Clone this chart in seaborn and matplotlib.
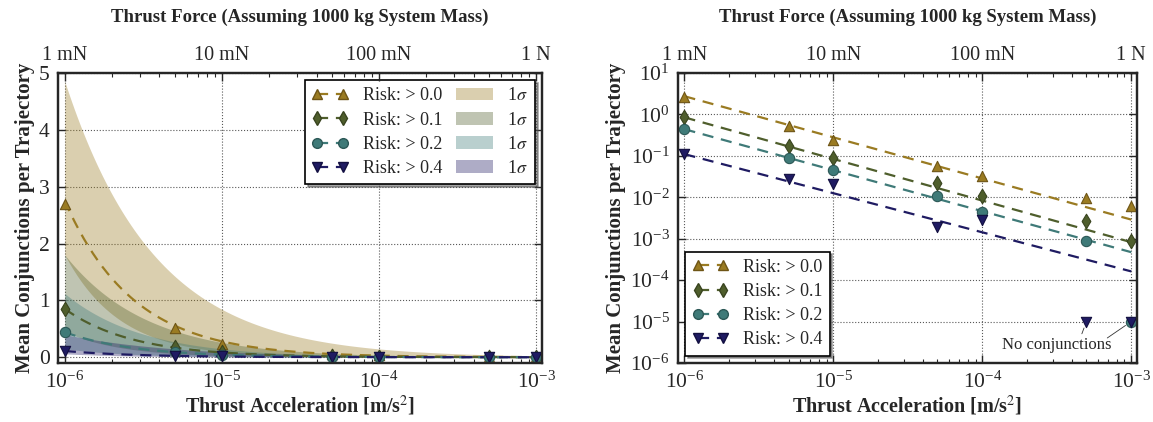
import numpy as np
import pandas as pd
import matplotlib
matplotlib.use("Agg")
import matplotlib.pyplot as plt
import seaborn as sns
from matplotlib.lines import Line2D
from matplotlib.patches import Patch

# thrust accelerations [m/s^2] and mean conjunctions per trajectory
accel = [1e-6, 5e-6, 1e-5, 5e-5, 1e-4, 5e-4, 1e-3]
risk_labels = ["Risk: > 0.0", "Risk: > 0.1", "Risk: > 0.2", "Risk: > 0.4"]
risk00 = [2.7, 0.52, 0.24, 0.056, 0.032, 0.0095, 0.006]
risk01 = [0.85, 0.175, 0.088, 0.022, 0.0105, 0.0027, 0.0009]
risk02 = [0.44, 0.089, 0.045, 0.0105, 0.0044, 0.0009, 0.0]
risk04 = [0.112, 0.027, 0.021, 0.0019, 0.0028, 0.0, 0.0]
no_conj_level = 1e-5  # where zero counts are shown on the log plot

# power-law fits (value at 1e-6, exponent) and 1-sigma band edges
fit_at_1e6 = [2.75, 0.85, 0.44, 0.11]
fit_slope = [-0.993, -1.005, -0.99, -0.944]
band_hi_at_1e6 = [4.85, 1.8, 1.12, 0.40]
band_hi_slope = [-0.76, -0.84, -0.88, -0.62]
band_lo_at_1e6 = [1.8, 0.45, 0.15, 0.06]
band_lo_slope = [-1.25, -1.2, -1.1, -1.0]

force_ticks = [1e-6, 1e-5, 1e-4, 1e-3]
force_labels = ["1 mN", "10 mN", "100 mN", "1 N"]

colors = ["#9a7b22", "#4f5e2c", "#3f7a78", "#1f1b62"]
edges = ["#6e5516", "#39441f", "#2c5856", "#120f40"]
markers = ["^", "d", "o", "v"]
series = [risk00, risk01, risk02, risk04]

sns.set_style("ticks")
plt.rcParams["font.family"] = ["Liberation Serif", "DejaVu Serif"]
plt.rcParams["mathtext.fontset"] = "stix"
plt.rcParams["axes.linewidth"] = 1.6

fig = plt.figure(figsize=(11.53, 4.22), dpi=100)
ax1 = fig.add_axes([0.0503, 0.140, 0.4198, 0.687])
ax2 = fig.add_axes([0.588, 0.140, 0.398, 0.687])

xlim = (9.05e-7, 1.09e-3)
grid = np.logspace(-6, -3, 200)
rel = grid / 1e-6

handles = []
for i in range(4):
    c, ec, m = colors[i], edges[i], markers[i]
    fit = fit_at_1e6[i] * rel ** fit_slope[i]
    hi = band_hi_at_1e6[i] * rel ** band_hi_slope[i]
    lo = band_lo_at_1e6[i] * rel ** band_lo_slope[i]
    df = pd.DataFrame({"accel": accel, "mean": series[i]})

    # left: linear scale with 1 sigma bands
    ax1.fill_between(grid, lo, hi, color=c, alpha=0.36, lw=0, zorder=1)
    sns.lineplot(x=grid, y=fit, ax=ax1, color=c, lw=1.6,
                 linestyle=(0, (5, 3.5)), zorder=3)
    sns.scatterplot(data=df, x="accel", y="mean", ax=ax1, marker=m, s=55,
                    color=c, edgecolor=ec, linewidth=0.8, zorder=4,
                    legend=False)

    # right: log scale, zeros shown at the "no conjunctions" level
    dfl = df.copy()
    dfl.loc[dfl["mean"] == 0, "mean"] = no_conj_level
    sns.lineplot(x=grid, y=fit, ax=ax2, color=c, lw=1.6,
                 linestyle=(0, (5, 3.5)), zorder=3)
    sns.scatterplot(data=dfl, x="accel", y="mean", ax=ax2, marker=m, s=55,
                    color=c, edgecolor=ec, linewidth=0.8, zorder=4,
                    legend=False, clip_on=False)

    handles.append(Line2D([], [], color=c, ls=(0, (5, 3.5)), lw=1.6,
                          marker=m, markersize=7, markerfacecolor=c,
                          markeredgecolor=ec))

patches = [Patch(facecolor=c, alpha=0.36, lw=0) for c in colors]

for ax in (ax1, ax2):
    ax.set_xscale("log")
    ax.set_xlim(*xlim)
    ax.grid(True, which="major", ls=":", color="0.35", lw=0.8)
    ax.tick_params(which="both", direction="in", top=False, right=True,
                   labelsize=15.5, pad=6)
    ax.tick_params(which="major", length=6, width=1)
    ax.tick_params(which="minor", length=3, width=0.8)
    ax.set_xlabel("Thrust Acceleration [m/s$^2$]", fontsize=14.5,
                  fontweight="bold", labelpad=1)
    ax.set_ylabel("Mean Conjunctions per Trajectory", fontsize=15,
                  fontweight="bold", labelpad=3)

    top = ax.twiny()
    top.set_xscale("log")
    top.set_xlim(*xlim)
    top.set_xticks(force_ticks)
    top.set_xticklabels(force_labels)
    top.tick_params(which="both", direction="in", labelsize=14.5, pad=6)
    top.tick_params(which="major", length=6, width=1)
    top.tick_params(which="minor", length=3, width=0.8)
    top.set_xlabel("Thrust Force (Assuming 1000 kg System Mass)",
                   fontsize=13.5, fontweight="bold", labelpad=17)

ax1.set_ylim(-0.1, 5)
ax1.set_yticks([0, 1, 2, 3, 4, 5])
ax2.set_yscale("log")
ax2.set_ylim(1e-6, 1e1)
ax2.set_yticks([10.0 ** k for k in range(-6, 2)])

leg1 = ax1.legend(handles + patches, risk_labels + ["1$\\sigma$"] * 4,
                  ncol=2, loc="upper right", numpoints=2, fontsize=13,
                  frameon=True, fancybox=False, shadow=True, framealpha=1,
                  edgecolor="black", handlelength=2.0, columnspacing=0.8,
                  borderaxespad=0.4, labelspacing=0.4)
leg1.get_frame().set_linewidth(1.2)
leg1.set_zorder(10)

leg2 = ax2.legend(handles, risk_labels, loc="lower left", numpoints=2,
                  fontsize=13, frameon=True, fancybox=False, shadow=True,
                  framealpha=1, edgecolor="black", handlelength=2.0,
                  borderaxespad=0.4, labelspacing=0.4)
leg2.get_frame().set_linewidth(1.2)
leg2.set_zorder(10)

ax2.annotate("No conjunctions", xy=(5e-4, no_conj_level),
             xytext=(3.15e-4, 2.7e-6), ha="center", va="center",
             fontsize=12,
             arrowprops=dict(arrowstyle="-", lw=0.6, color="0.2",
                             relpos=(0.72, 1.0), shrinkA=0, shrinkB=5))
ax2.annotate("", xy=(1e-3, no_conj_level), xytext=(6.9e-4, 4.0e-6),
             arrowprops=dict(arrowstyle="-", lw=0.6, color="0.2",
                             shrinkA=0, shrinkB=5))

fig.savefig("out.png", dpi=100)
plt.close(fig)
